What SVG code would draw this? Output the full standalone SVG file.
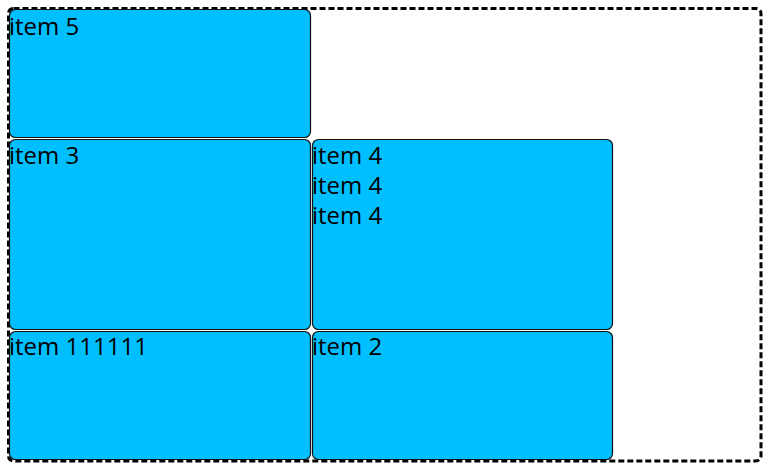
<svg xmlns="http://www.w3.org/2000/svg" width="775" height="471" viewBox="0 0 775 471">
<style>
.box{fill:#00BFFF;stroke:#111;stroke-width:1.2}
.lbl{font-family:"Open Sans","Noto Sans","Liberation Sans",sans-serif;font-size:24px;fill:#000}
.container{fill:none;stroke:#000;stroke-width:3;stroke-dasharray:6,3}
</style>
<rect width="775" height="471" fill="#fff"/>
<g id="container"><rect class="container" x="8.5" y="8.5" width="752.5" height="452.5" rx="5"/></g>
<g id="item5"><rect class="box" x="9.5" y="9.5" width="301" height="128" rx="6"/><text class="lbl" x="9" y="35">item 5</text></g>
<g id="item3"><rect class="box" x="9.5" y="139.5" width="301" height="190" rx="6"/><text class="lbl" x="9" y="164">item 3</text></g>
<g id="item4"><rect class="box" x="312.5" y="139.5" width="300" height="190" rx="6"/><text class="lbl" x="312" y="164">item 4</text><text class="lbl" x="312" y="194">item 4</text><text class="lbl" x="312" y="224">item 4</text></g>
<g id="item111111"><rect class="box" x="9.5" y="331.5" width="301" height="128" rx="6"/><text class="lbl" x="9" y="355">item 111111</text></g>
<g id="item2"><rect class="box" x="312.5" y="331.5" width="300" height="128" rx="6"/><text class="lbl" x="312" y="355">item 2</text></g>
<g id="connectors"></g>
</svg>
